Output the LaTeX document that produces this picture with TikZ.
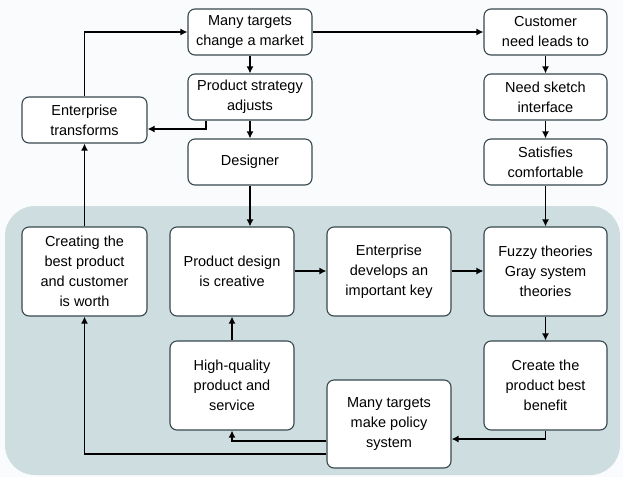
\documentclass[tikz,border=0pt]{standalone}
\usepackage{fontspec}
\setmainfont{Liberation Sans}
\usetikzlibrary{arrows.meta}
\definecolor{bgpanel}{RGB}{206,221,224}
\definecolor{boxline}{RGB}{55,72,78}
\definecolor{pagebg}{RGB}{250,251,253}
\begin{document}
\begin{tikzpicture}[x=1pt,y=-1pt,
  box/.style={draw=boxline, line width=1.1pt, fill=white, rounded corners=7pt,
    align=center, inner sep=0pt, font=\fontsize{14.5}{20}\selectfont},
  arr/.style={draw=black, line width=1.4pt, -{Latex[length=7pt,width=7pt]}}]
\fill[pagebg] (0,0) rectangle (623,477);
\useasboundingbox (0,0) rectangle (623,477);
\fill[bgpanel, rounded corners=30pt] (5,206) rectangle (620,475);
% top row
\node[box, minimum width=124pt, minimum height=46pt] (mt) at (250,32) {Many targets\\change a market};
\node[box, minimum width=124pt, minimum height=46pt] (psa) at (250,97) {Product strategy\\adjusts};
\node[box, minimum width=124pt, minimum height=46pt] (des) at (250,162) {Designer};
\node[box, minimum width=125pt, minimum height=46pt] (et) at (84.5,120) {Enterprise\\transforms};
\node[box, minimum width=123pt, minimum height=46pt] (cn) at (545.5,32) {Customer\\need leads to};
\node[box, minimum width=123pt, minimum height=46pt] (ns) at (545.5,97) {Need sketch\\interface};
\node[box, minimum width=123pt, minimum height=46pt] (sc) at (545.5,162) {Satisfies\\comfortable};
% panel boxes
\node[box, minimum width=125pt, minimum height=89pt] (cb) at (84.5,271.5) {Creating the\\best product\\and customer\\is worth};
\node[box, minimum width=124pt, minimum height=89pt] (pd) at (232,271.5) {Product design\\is creative};
\node[box, minimum width=124pt, minimum height=89pt] (ed) at (389,271.5) {Enterprise\\develops an\\important key};
\node[box, minimum width=123pt, minimum height=89pt] (ft) at (545.5,271.5) {Fuzzy theories\\Gray system\\theories};
\node[box, minimum width=124pt, minimum height=89pt] (hq) at (232,385.5) {High-quality\\product and\\service};
\node[box, minimum width=123pt, minimum height=89pt] (cp) at (545.5,385.5) {Create the\\product best\\benefit};
\node[box, minimum width=124pt, minimum height=88pt] (mp) at (389,424) {Many targets\\make policy\\system};
% connectors
\draw[arr] (mt.east) -- (cn.west);
\draw[arr] (mt) -- (psa);
\draw[arr] (psa) -- (des);
\draw[arr] (psa.south -| 206,0) |- (et.east |- 0,129);
\draw[arr] (et.north) |- (mt.west);
\draw[arr] (cb.north) -- (et.south);
\draw[arr] (des.south -| 250,0) -- (pd.north -| 250,0);
\draw[arr] (pd.east |- 0,271) -- (ed.west |- 0,271);
\draw[arr] (ed.east |- 0,271) -- (ft.west |- 0,271);
\draw[arr] (cn) -- (ns);
\draw[arr] (ns) -- (sc);
\draw[arr] (sc) -- (ft);
\draw[arr] (ft) -- (cp);
\draw[arr] (cp.south) |- (mp.east |- 0,439);
\draw[arr] (mp.west |- 0,441) -| (hq.south);
\draw[arr] (mp.west |- 0,454) -| (cb.south);
\draw[arr] (hq) -- (pd);
\end{tikzpicture}
\end{document}
